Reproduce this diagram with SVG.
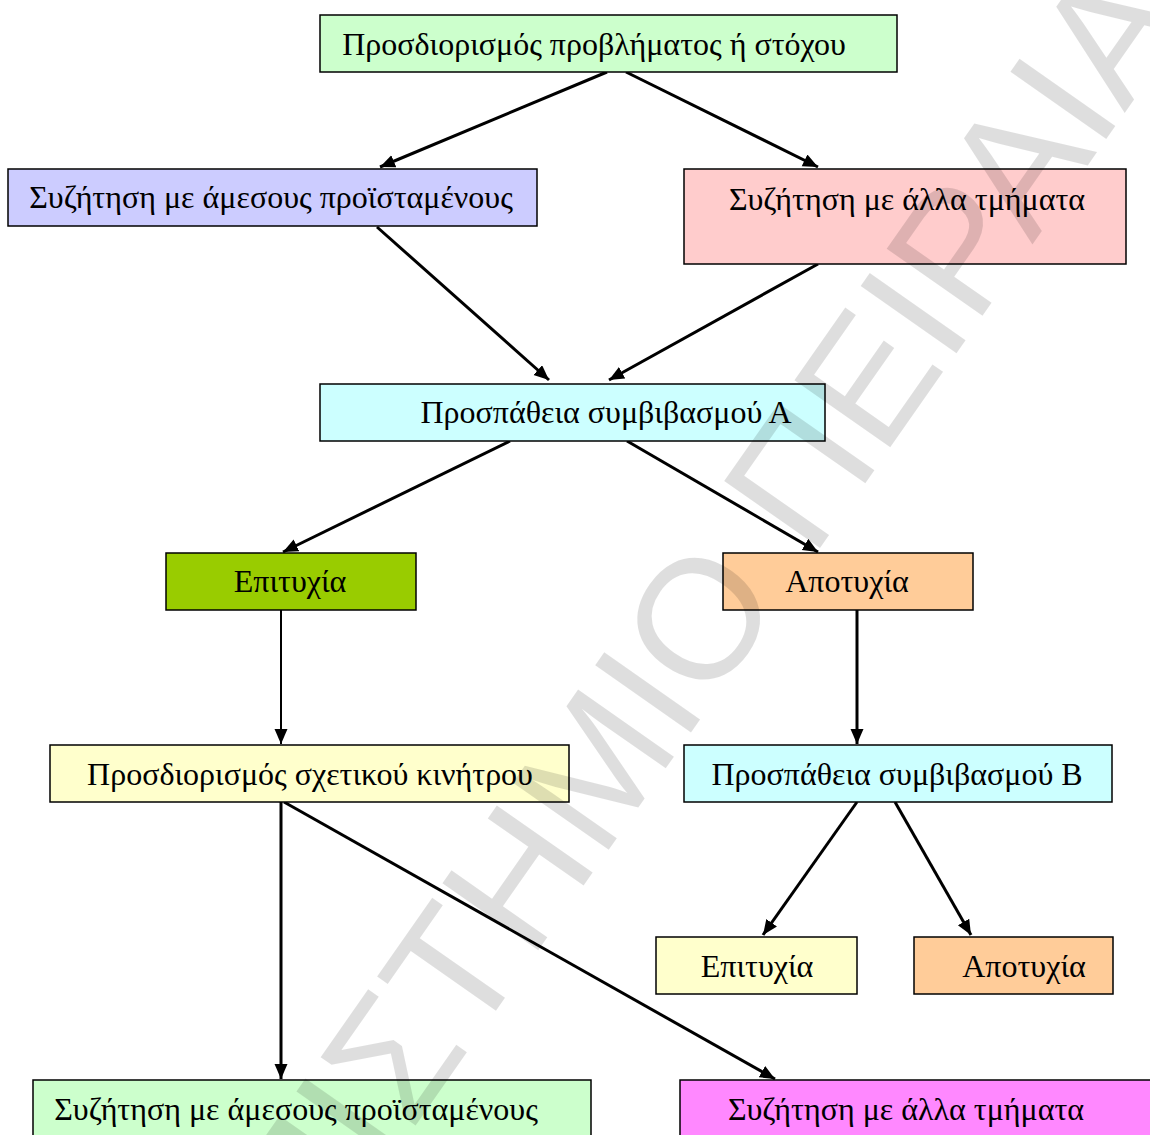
<svg xmlns="http://www.w3.org/2000/svg" width="1150" height="1135" viewBox="0 0 1150 1135">
  <style>
    .box { stroke: #000; stroke-width: 1.5; }
    .lbl { font-family: "Liberation Serif", "Times New Roman", serif; font-size: 32px; fill: #000; text-anchor: middle; }
    .edge { stroke: #000; stroke-width: 3; fill: none; marker-end: url(#arrow); }
    .thin { stroke-width: 2; }
    .wm { font-family: "Liberation Sans", Arial, sans-serif; font-size: 170px; fill: #000; fill-opacity: 0.13; }
  </style>
  <defs>
    <marker id="arrow" markerUnits="userSpaceOnUse" markerWidth="16" markerHeight="14" refX="15" refY="6.5" orient="auto">
      <path d="M0,0 L15,6.5 L0,13 z" fill="#000"/>
    </marker>
  </defs>
  <rect width="1150" height="1135" fill="#fff"/>

  <!-- connectors -->
  <g id="connectors">
    <line class="edge" x1="607" y1="72" x2="380" y2="167"/>
    <line class="edge" x1="626" y1="72" x2="818" y2="167"/>
    <line class="edge" x1="377" y1="227" x2="549" y2="380"/>
    <line class="edge" x1="818" y1="264" x2="609" y2="380"/>
    <line class="edge" x1="510" y1="441" x2="283" y2="552"/>
    <line class="edge" x1="627" y1="441" x2="818" y2="552"/>
    <line class="edge thin" x1="281" y1="610" x2="281" y2="744"/>
    <line class="edge" x1="857" y1="610" x2="857" y2="744"/>
    <line class="edge" x1="857" y1="802" x2="763" y2="935"/>
    <line class="edge" x1="895" y1="802" x2="971" y2="935"/>
    <line class="edge" x1="281" y1="802" x2="281" y2="1079"/>
    <line class="edge" x1="284" y1="802" x2="775" y2="1079"/>
  </g>

  <!-- nodes -->
  <g id="n-goal">
    <rect class="box" x="320" y="15" width="577" height="57" fill="#CCFFCC"/>
    <text class="lbl" x="594" y="55">Προσδιορισμός προβλήματος ή στόχου</text>
  </g>
  <g id="n-supervisors">
    <rect class="box" x="8" y="169" width="529" height="57" fill="#CCCCFF"/>
    <text class="lbl" x="271" y="208">Συζήτηση με άμεσους προϊσταμένους</text>
  </g>
  <g id="n-departments">
    <rect class="box" x="684" y="169" width="442" height="95" fill="#FFCCCC"/>
    <text class="lbl" x="907" y="210">Συζήτηση με άλλα τμήματα</text>
  </g>
  <g id="n-compromise-a">
    <rect class="box" x="320" y="384" width="505" height="57" fill="#CCFFFF"/>
    <text class="lbl" x="606" y="423">Προσπάθεια συμβιβασμού Α</text>
  </g>
  <g id="n-success-1">
    <rect class="box" x="166" y="553" width="250" height="57" fill="#99CC00"/>
    <text class="lbl" x="290" y="592">Επιτυχία</text>
  </g>
  <g id="n-failure-1">
    <rect class="box" x="723" y="553" width="250" height="57" fill="#FFCC99"/>
    <text class="lbl" x="847" y="592">Αποτυχία</text>
  </g>
  <g id="n-incentive">
    <rect class="box" x="50" y="745" width="519" height="57" fill="#FFFFCC"/>
    <text class="lbl" x="310" y="785">Προσδιορισμός σχετικού κινήτρου</text>
  </g>
  <g id="n-compromise-b">
    <rect class="box" x="684" y="745" width="428" height="57" fill="#CCFFFF"/>
    <text class="lbl" x="897" y="785">Προσπάθεια συμβιβασμού Β</text>
  </g>
  <g id="n-success-2">
    <rect class="box" x="656" y="937" width="201" height="57" fill="#FFFFCC"/>
    <text class="lbl" x="757" y="977">Επιτυχία</text>
  </g>
  <g id="n-failure-2">
    <rect class="box" x="914" y="937" width="199" height="57" fill="#FFCC99"/>
    <text class="lbl" x="1024" y="977">Αποτυχία</text>
  </g>
  <g id="n-supervisors-2">
    <rect class="box" x="33" y="1080" width="558" height="70" fill="#CCFFCC"/>
    <text class="lbl" x="296" y="1120">Συζήτηση με άμεσους προϊσταμένους</text>
  </g>
  <g id="n-departments-2">
    <rect class="box" x="680" y="1080" width="480" height="70" fill="#FF88FF"/>
    <text class="lbl" x="906" y="1120">Συζήτηση με άλλα τμήματα</text>
  </g>

  <!-- watermark across the sheet -->
  <text class="wm" transform="translate(42 1659) rotate(-55)">ΠΑΝΕΠΙΣΤΗΜΙΟ ΠΕΙΡΑΙΑ</text>
</svg>
